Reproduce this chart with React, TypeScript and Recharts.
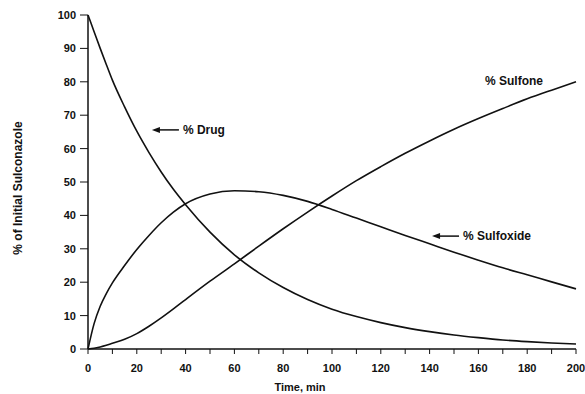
import type { ReactElement } from "react";
import { LineChart, Line, XAxis, YAxis, ReferenceDot } from "recharts";

// time, min
const times = [0, 2.5, 5, 7.5, 10, 15, 20, 25, 30, 35, 40, 50, 60, 70, 80, 90, 100, 110, 120, 130, 140, 150, 160, 170, 180, 190, 200];
// % of initial sulconazole
const drug = [100, 95, 90, 85.2, 80.5, 72.5, 65.2, 58.8, 53, 47.8, 43.2, 35, 28.2, 22.8, 18.4, 14.8, 11.9, 9.7, 7.9, 6.4, 5.2, 4.2, 3.4, 2.7, 2.2, 1.8, 1.5];
const sulfoxide = [0, 7.6, 12.8, 16.6, 19.8, 25, 29.8, 34, 37.8, 41, 43.5, 46.4, 47.4, 47.1, 46, 44.2, 41.8, 39.2, 36.6, 34, 31.5, 29, 26.6, 24.3, 22.2, 20.1, 18];
const sulfone = [0, 0.2, 0.6, 1.1, 1.7, 2.9, 4.6, 6.8, 9.3, 12, 14.8, 20.3, 25.5, 30.8, 36, 41, 45.8, 50.4, 54.6, 58.6, 62.3, 65.8, 69, 72, 74.9, 77.5, 80];

const xTicks = [0, 10, 20, 30, 40, 50, 60, 70, 80, 90, 100, 110, 120, 130, 140, 150, 160, 170, 180, 190, 200];
const yTicks = [0, 10, 20, 30, 40, 50, 60, 70, 80, 90, 100];

const FONT = "'Liberation Sans', Arial, Helvetica, sans-serif";
const INK = "#111";

const data = times.map((t, i) => ({ t, drug: drug[i], sulfoxide: sulfoxide[i], sulfone: sulfone[i] }));

function Note({ viewBox, text, arrow }: any): ReactElement {
    const x = viewBox.x + viewBox.width / 2;
    const y = viewBox.y + viewBox.height / 2;
    const tx = arrow ? x + 31 : x;
    return (
        <g>
            {arrow && (
                <g>
                    <line x1={x + 5} y1={y} x2={x + 27} y2={y} stroke={INK} strokeWidth={1.5} />
                    <polygon points={`${x},${y} ${x + 8},${y - 3} ${x + 8},${y + 3}`} fill={INK} />
                </g>
            )}
            <text x={tx} y={y + 4} fontSize={12} fontWeight="bold" fontFamily={FONT} fill={INK}>
                {text}
            </text>
        </g>
    );
}

export default function App(): ReactElement {
    const tickStyle = { fontSize: 11, fontWeight: "bold", fontFamily: FONT, fill: INK };
    return (
        <div style={{ position: "absolute", left: 0, top: 0, background: "#fff" }}>
            <LineChart width={585} height={394} data={data} margin={{ top: 15, right: 9, bottom: 15, left: 0 }}>
                <XAxis
                    dataKey="t"
                    type="number"
                    domain={[0, 200]}
                    ticks={xTicks}
                    tickFormatter={(v: number) => (v % 20 === 0 ? String(v) : "")}
                    interval={0}
                    height={30}
                    tickSize={5}
                    tickMargin={10}
                    tick={tickStyle}
                    stroke={INK}
                    axisLine={{ stroke: INK, strokeWidth: 1.5 }}
                    label={{
                        content: ({ viewBox }: any) => (
                            <text
                                x={viewBox.x + viewBox.width / 2 - 32}
                                y={viewBox.y + 42}
                                textAnchor="middle"
                                fontSize={11}
                                fontWeight="bold"
                                fontFamily={FONT}
                                fill={INK}
                            >
                                Time, min
                            </text>
                        ),
                    }}
                />
                <XAxis
                    xAxisId="top"
                    dataKey="t"
                    type="number"
                    orientation="top"
                    domain={[0, 200]}
                    height={0}
                    tick={false}
                    tickLine={false}
                    axisLine={{ stroke: INK, strokeWidth: 1.5 }}
                />
                <YAxis
                    yAxisId="left"
                    type="number"
                    domain={[0, 100]}
                    ticks={yTicks}
                    interval={0}
                    width={88}
                    tickSize={8}
                    tickMargin={4}
                    tick={tickStyle}
                    stroke={INK}
                    axisLine={{ stroke: INK, strokeWidth: 1.5 }}
                    label={{
                        content: ({ viewBox }: any) => {
                            const cx = 18;
                            const cy = viewBox.y + viewBox.height / 2 + 6;
                            return (
                                <text
                                    x={cx}
                                    y={cy}
                                    transform={`rotate(-90, ${cx}, ${cy})`}
                                    textAnchor="middle"
                                    dominantBaseline="central"
                                    fontSize={12}
                                    fontWeight="bold"
                                    fontFamily={FONT}
                                    fill={INK}
                                >
                                    % of Initial Sulconazole
                                </text>
                            );
                        },
                    }}
                />
                <YAxis
                    yAxisId="right"
                    orientation="right"
                    type="number"
                    domain={[0, 100]}
                    ticks={yTicks}
                    interval={0}
                    width={0}
                    mirror
                    tickSize={4}
                    tickFormatter={() => ""}
                    stroke={INK}
                    axisLine={{ stroke: INK, strokeWidth: 1.5 }}
                />
                <Line yAxisId="left" type="monotone" dataKey="drug" stroke={INK} strokeWidth={1.6} dot={false} isAnimationActive={false} />
                <Line yAxisId="left" type="monotone" dataKey="sulfoxide" stroke={INK} strokeWidth={1.6} dot={false} isAnimationActive={false} />
                <Line yAxisId="left" type="monotone" dataKey="sulfone" stroke={INK} strokeWidth={1.6} dot={false} isAnimationActive={false} />
                <ReferenceDot yAxisId="left" x={26.2} y={65.6} r={0} label={<Note text="% Drug" arrow />} />
                <ReferenceDot yAxisId="left" x={141} y={33.8} r={0} label={<Note text="% Sulfoxide" arrow />} />
                <ReferenceDot yAxisId="left" x={162.7} y={80.2} r={0} label={<Note text="% Sulfone" />} />
            </LineChart>
        </div>
    );
}
